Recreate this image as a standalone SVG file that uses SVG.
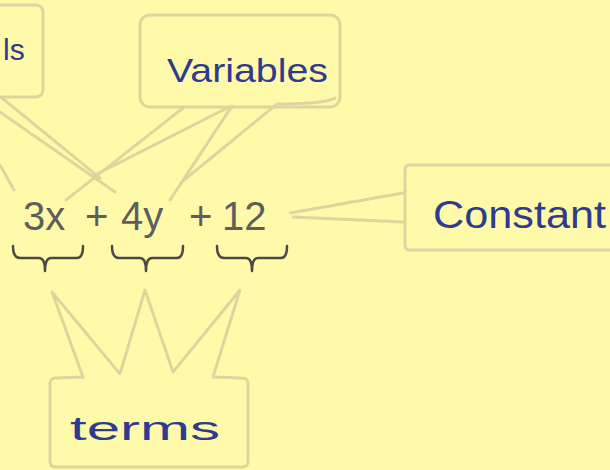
<svg xmlns="http://www.w3.org/2000/svg" width="610" height="470" viewBox="0 0 610 470">
  <style>
    .sketch { fill: none; stroke: #e0d49e; stroke-width: 3; stroke-linecap: round; stroke-linejoin: round; stroke-dasharray: 4 1.5; }
    .hand { font-family: "Liberation Sans", "DejaVu Sans", sans-serif; fill: #2e3b8e; }
    .expr { font-family: "Liberation Sans", Arial, sans-serif; font-size: 40px; fill: #5e5e5e; }
    .brace { fill: none; stroke: #4a4a4a; stroke-width: 2.5; stroke-linecap: round; stroke-linejoin: round; }
  </style>
  <rect x="0" y="0" width="610" height="470" fill="#fffaa9"/>

  <g id="connectors">
    <!-- ls box pointer -->
    <path class="sketch" d="M 2,98 L 100,178"/>
    <path class="sketch" d="M 0,112 L 115,192"/>
    <path class="sketch" d="M 0,165 L 14,190"/>
    <!-- Variables left pointer -->
    <path class="sketch" d="M 183,108 L 66,200"/>
    <path class="sketch" d="M 229,107 L 93,176"/>
    <!-- Variables right pointer -->
    <path class="sketch" d="M 232,106 L 170,200"/>
    <path class="sketch" d="M 335,98 Q 325,104 277,104 L 183,181"/>
    <!-- Constant pointer -->
    <path class="sketch" d="M 403,193 L 290,213"/>
    <path class="sketch" d="M 403,222 L 293,217"/>
    <!-- terms pointers -->
    <path class="sketch" d="M 83,377 L 52,292 L 120,374 L 145,290 L 173,372 L 240,290 L 213,377"/>
  </g>

  <g id="node-ls">
    <path class="sketch" d="M -10,5 L 35,5 Q 43,5 43,13 L 43,89 Q 43,97 35,97 L -10,97"/>
    <text class="hand" x="3" y="60" font-size="30">ls</text>
  </g>

  <g id="node-variables">
    <rect class="sketch" x="140" y="15" width="200" height="92" rx="10"/>
    <text class="hand" x="167" y="82" font-size="34" textLength="161" lengthAdjust="spacingAndGlyphs">Variables</text>
  </g>

  <g id="node-constant">
    <path class="sketch" d="M 620,165 L 410,165 Q 405,165 405,170 L 405,245 Q 405,250 410,250 L 620,250"/>
    <text class="hand" x="433" y="228" font-size="38" textLength="173" lengthAdjust="spacingAndGlyphs">Constant</text>
  </g>

  <g id="node-expression">
    <text class="expr" y="230"><tspan x="23">3x</tspan><tspan x="85">+</tspan><tspan x="121">4y</tspan><tspan x="189">+</tspan><tspan x="222">12</tspan></text>
    <path class="brace" d="M 13,246 Q 13,258 20,258 L 39,258 Q 45,258 45,271 Q 45,258 51,258 L 77,258 Q 83,258 83,246"/>
    <path class="brace" d="M 112,246 Q 112,258 119,258 L 140,258 Q 146,258 146,271 Q 146,258 152,258 L 177,258 Q 183,258 183,246"/>
    <path class="brace" d="M 217,246 Q 217,258 224,258 L 246,258 Q 252,258 252,271 Q 252,258 258,258 L 281,258 Q 287,258 287,246"/>
  </g>

  <g id="node-terms">
    <path class="sketch" d="M 83,377 L 56,378 Q 50,378 50,384 L 50,461 Q 50,467 56,467 L 242,467 Q 248,467 248,461 L 248,384 Q 248,378 242,378 L 213,377"/>
    <text class="hand" x="70" y="440" font-size="34" textLength="150" lengthAdjust="spacingAndGlyphs">terms</text>
  </g>
</svg>
